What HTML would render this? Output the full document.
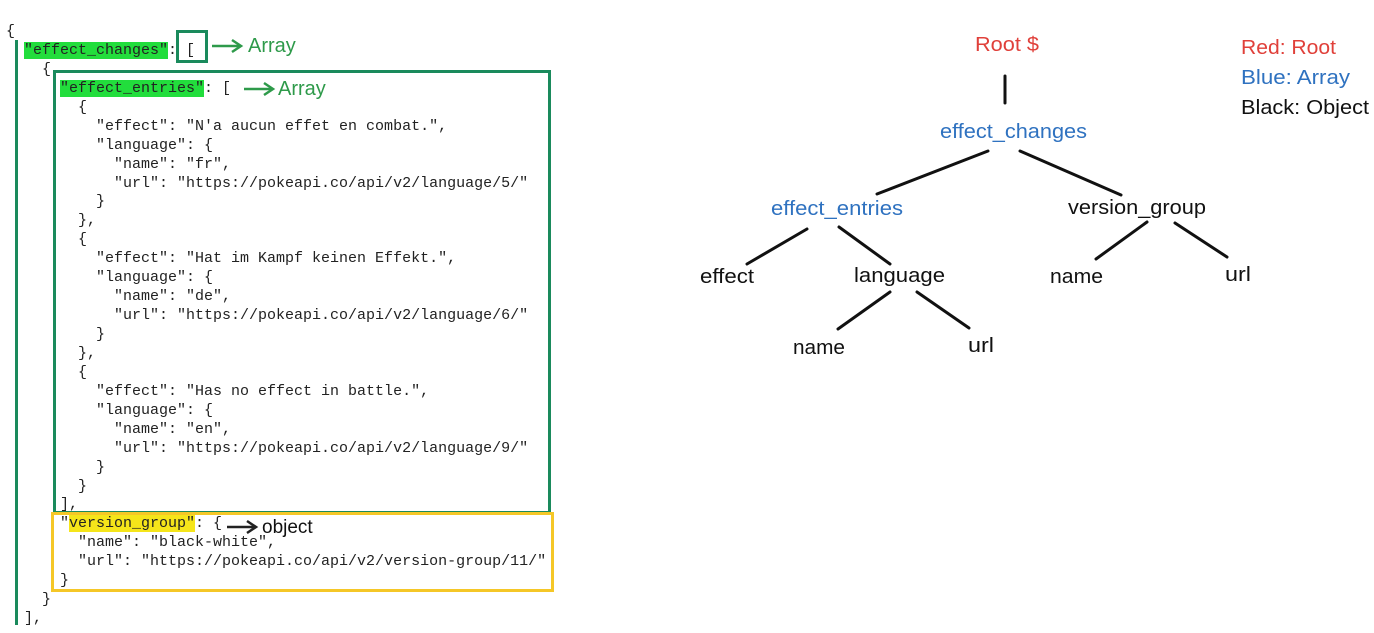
<!DOCTYPE html>
<html><head><meta charset="utf-8"><style>
html,body{margin:0;padding:0;background:#fff;width:1374px;height:633px;overflow:hidden;position:relative}
pre{position:absolute;left:6px;top:23px;margin:0;font-family:"Liberation Mono",monospace;font-size:15px;line-height:18.94px;color:#222;letter-spacing:0}
.hg{background:#22dd3c}
.hy{background:#f5e51a}
.box{position:absolute;box-sizing:border-box}
</style></head><body>
<pre>{
  <span class="hg">"effect_changes"</span>: [
    {
      <span class="hg">"effect_entries"</span>: [
        {
          "effect": "N'a aucun effet en combat.",
          "language": {
            "name": "fr",
            "url": "https://pokeapi.co/api/v2/language/5/"
          }
        },
        {
          "effect": "Hat im Kampf keinen Effekt.",
          "language": {
            "name": "de",
            "url": "https://pokeapi.co/api/v2/language/6/"
          }
        },
        {
          "effect": "Has no effect in battle.",
          "language": {
            "name": "en",
            "url": "https://pokeapi.co/api/v2/language/9/"
          }
        }
      ],
      "<span class="hy">version_group"</span>: {
        "name": "black-white",
        "url": "https://pokeapi.co/api/v2/version-group/11/"
      }
    }
  ],</pre>
<div class="box" style="left:15px;top:40px;width:3px;height:585px;background:#1a8a5c"></div>
<div class="box" style="left:176px;top:30px;width:32px;height:33px;border:3px solid #1a8a5c"></div>
<div class="box" style="left:53px;top:70px;width:498px;height:444px;border:3px solid #1a8a5c"></div>
<div class="box" style="left:51px;top:512px;width:503px;height:80px;border:3px solid #f5c727"></div>
<svg width="1374" height="633" style="position:absolute;left:0;top:0" font-family="Liberation Sans, sans-serif">
<g stroke="#2e9a4a" stroke-width="2.5" fill="none">
<line x1="212" y1="46" x2="240" y2="46"/><polyline points="232,40 241,46 232,52"/>
<line x1="244" y1="89" x2="272" y2="89"/><polyline points="264,83 273,89 264,95"/>
</g>
<g stroke="#222" stroke-width="2.5" fill="none">
<line x1="227" y1="527" x2="255" y2="527"/><polyline points="247,521 256,527 247,533"/>
</g>
<text x="248" y="52" font-size="20" fill="#2e9a4a">Array</text>
<text x="278" y="95" font-size="20" fill="#2e9a4a">Array</text>
<text x="262" y="533" font-size="19" fill="#111">object</text>
<g stroke="#111" stroke-width="3" stroke-linecap="round">
<line x1="1005" y1="76" x2="1005" y2="103"/>
<line x1="988" y1="151" x2="877" y2="194"/>
<line x1="1020" y1="151" x2="1121" y2="195"/>
<line x1="807" y1="229" x2="747" y2="264"/>
<line x1="839" y1="227" x2="890" y2="264"/>
<line x1="1147" y1="222" x2="1096" y2="259"/>
<line x1="1175" y1="223" x2="1227" y2="257"/>
<line x1="890" y1="292" x2="838" y2="329"/>
<line x1="917" y1="292" x2="969" y2="328"/>
</g>
<g font-size="20" lengthAdjust="spacingAndGlyphs">
<text x="975" y="51" fill="#e0403a" textLength="64" lengthAdjust="spacingAndGlyphs">Root $</text>
<text x="940" y="138" fill="#2f72c0" textLength="147" lengthAdjust="spacingAndGlyphs">effect_changes</text>
<text x="771" y="215" fill="#2f72c0" textLength="132" lengthAdjust="spacingAndGlyphs">effect_entries</text>
<text x="1068" y="214" fill="#111" textLength="138" lengthAdjust="spacingAndGlyphs">version_group</text>
<text x="700" y="283" fill="#111" textLength="54" lengthAdjust="spacingAndGlyphs">effect</text>
<text x="854" y="282" fill="#111" textLength="91" lengthAdjust="spacingAndGlyphs">language</text>
<text x="1050" y="283" fill="#111" textLength="53" lengthAdjust="spacingAndGlyphs">name</text>
<text x="1225" y="281" fill="#111" textLength="26" lengthAdjust="spacingAndGlyphs">url</text>
<text x="793" y="354" fill="#111" textLength="52" lengthAdjust="spacingAndGlyphs">name</text>
<text x="968" y="352" fill="#111" textLength="26" lengthAdjust="spacingAndGlyphs">url</text>
<text x="1241" y="54" fill="#e0403a" textLength="95" lengthAdjust="spacingAndGlyphs">Red: Root</text>
<text x="1241" y="84" fill="#2f72c0" textLength="109" lengthAdjust="spacingAndGlyphs">Blue: Array</text>
<text x="1241" y="114" fill="#111" textLength="128" lengthAdjust="spacingAndGlyphs">Black: Object</text>
</g>
</svg>
</body></html>
